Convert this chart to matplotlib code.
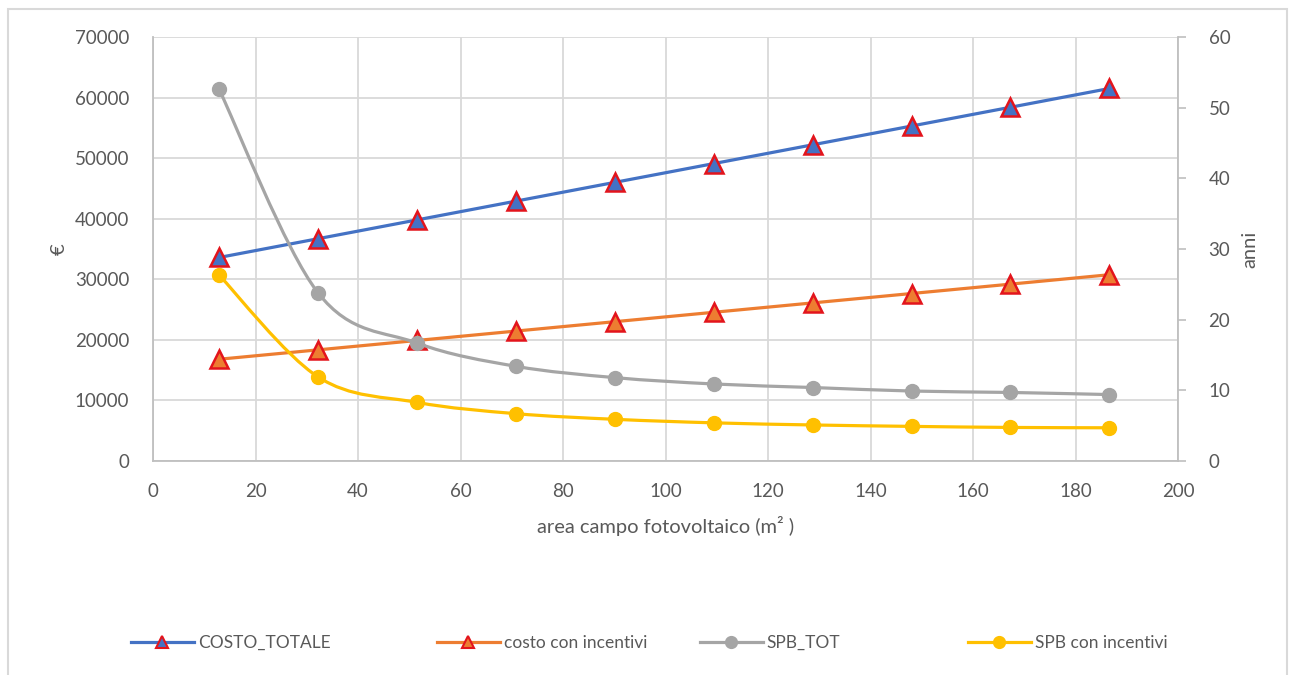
import numpy as np
import matplotlib
matplotlib.use('Agg')
import matplotlib.pyplot as plt
from matplotlib.path import Path
from matplotlib.patches import PathPatch, Rectangle
from matplotlib.lines import Line2D

# Area of the PV field (m2) and the four series
area = [12.9, 32.2, 51.5, 70.8, 90.1, 109.4, 128.7, 148.0, 167.3, 186.6]
costo_totale = [33600, 36700, 39800, 42900, 46000, 49100, 52200, 55300, 58400, 61500]
costo_incentivi = [16800, 18350, 19900, 21450, 23000, 24550, 26100, 27650, 29200, 30750]
spb_tot = [52.6, 23.8, 16.7, 13.4, 11.8, 10.9, 10.4, 9.9, 9.7, 9.4]
spb_incentivi = [26.3, 11.9, 8.3, 6.7, 5.9, 5.4, 5.1, 4.9, 4.75, 4.7]

x_ticks = list(range(0, 201, 20))
left_ticks = list(range(0, 70001, 10000))
right_ticks = list(range(0, 61, 10))

BLUE = '#4472C4'
ORANGE = '#ED7D31'
GRAY = '#A5A5A5'
YELLOW = '#FFC000'
EDGE_RED = '#E3141C'
TEXT = '#595959'
GRID = '#D9D9D9'

plt.rcParams['font.family'] = ['Lato', 'DejaVu Sans']


def smooth_path(x, y):
    # Bezier path through the points, like Excel's "smoothed line"
    pts = np.column_stack([x, y]).astype(float)
    ext = np.vstack([pts[0], pts, pts[-1]])
    verts = [pts[0]]
    codes = [Path.MOVETO]
    for i in range(len(pts) - 1):
        p0, p1, p2, p3 = ext[i], ext[i + 1], ext[i + 2], ext[i + 3]
        verts += [p1 + (p2 - p0) / 6, p2 - (p3 - p1) / 6, p2]
        codes += [Path.CURVE4] * 3
    return Path(verts, codes)


fig = plt.figure(figsize=(12.89, 6.75), dpi=100)
ax = fig.add_axes([153 / 1289, 1 - 461 / 675, (1178 - 153) / 1289, (461 - 37) / 675])
ax2 = ax.twinx()

# outer chart border
fig.patches.append(Rectangle((8 / 1289, -0.02), (1287 - 8) / 1289, 1.02 - 9 / 675,
                             transform=fig.transFigure, fill=False,
                             edgecolor='#D9D9D9', linewidth=1.5))

# left axis: costs
ax.plot(area, costo_totale, color=BLUE, lw=2.3, marker='^', ms=13,
        mfc=BLUE, mec=EDGE_RED, mew=1.8, zorder=3)
ax.plot(area, costo_incentivi, color=ORANGE, lw=2.3, marker='^', ms=13,
        mfc=ORANGE, mec=EDGE_RED, mew=1.8, zorder=3)

ax.set_xlim(0, 200)
ax.set_ylim(0, 70000)
ax.set_xticks(x_ticks)
ax.set_yticks(left_ticks)
ax.grid(True, color=GRID, lw=1.3)
ax.set_axisbelow(True)
ax.tick_params(axis='both', length=0, labelsize=13.5, labelcolor=TEXT)
ax.tick_params(axis='y', pad=17)
ax.tick_params(axis='x', pad=16)
for side in ['top', 'right']:
    ax.spines[side].set_visible(False)
for side in ['left', 'bottom']:
    ax.spines[side].set_color('#BFBFBF')
    ax.spines[side].set_linewidth(1.3)
ax.set_xlabel('area campo fotovoltaico (m² )', fontsize=14.5, color=TEXT, labelpad=11)
ax.set_ylabel('€', fontsize=14.5, color=TEXT, labelpad=5)

# right axis: payback years, smoothed lines
for vals, col in [(spb_tot, GRAY), (spb_incentivi, YELLOW)]:
    ax2.add_patch(PathPatch(smooth_path(area, vals), fill=False, edgecolor=col,
                            lw=2.3, capstyle='round', zorder=3))
    ax2.plot(area, vals, ls='none', marker='o', ms=10, color=col, zorder=4)

ax2.set_ylim(0, 60)
ax2.set_yticks(right_ticks)
ax2.tick_params(axis='y', length=6, width=1.2, color='#BFBFBF', pad=16,
                labelsize=13.5, labelcolor=TEXT)
for side in ['top', 'left', 'bottom']:
    ax2.spines[side].set_visible(False)
ax2.spines['right'].set_color('#BFBFBF')
ax2.spines['right'].set_linewidth(1.3)
ax2.set_ylabel('anni', fontsize=14.5, color=TEXT, labelpad=8)

# legend entries spread along the bottom
legend_items = [
    ('COSTO_TOTALE', BLUE, '^', BLUE, EDGE_RED, 131),
    ('costo con incentivi', ORANGE, '^', ORANGE, EDGE_RED, 437),
    ('SPB_TOT', GRAY, 'o', GRAY, GRAY, 700),
    ('SPB con incentivi', YELLOW, 'o', YELLOW, YELLOW, 968),
]
for label, col, mk, fc, ec, xpos in legend_items:
    h = Line2D([], [], color=col, lw=2.3, marker=mk, ms=8, mfc=fc, mec=ec, mew=1.5)
    fig.legend(handles=[h], labels=[label], loc='center left',
               bbox_to_anchor=(xpos / 1289, 1 - 643 / 675), frameon=False,
               borderpad=0, borderaxespad=0, handlelength=3.6, handletextpad=0.25,
               fontsize=12.5, labelcolor=TEXT)

fig.savefig('out.png', dpi=100)
